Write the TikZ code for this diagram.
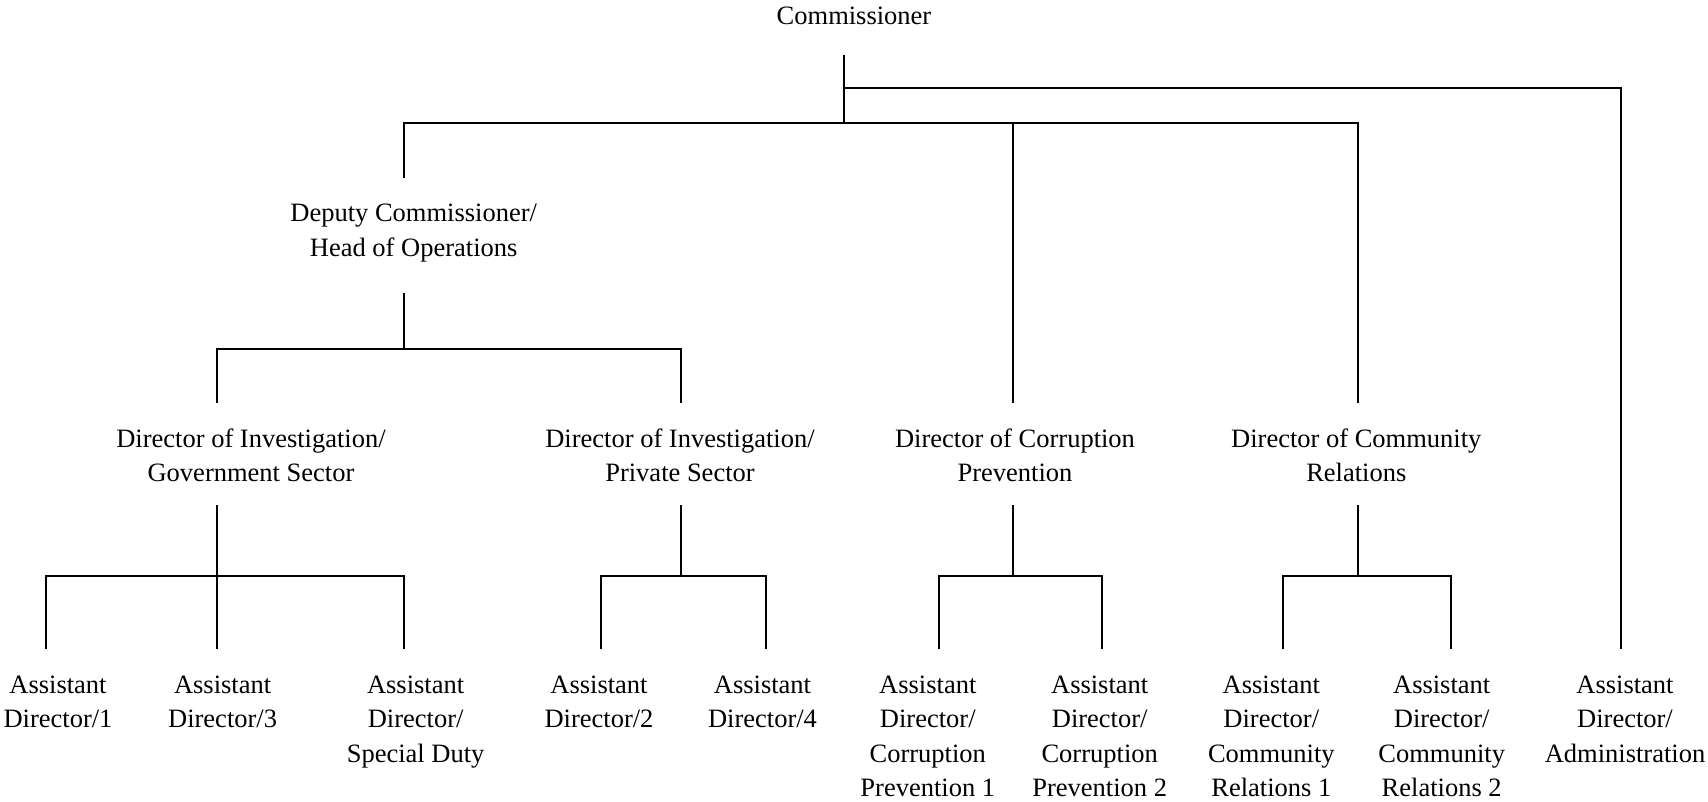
\documentclass[tikz,border=0pt]{standalone}
\usepackage{fontspec}
\setmainfont{Liberation Serif}

\begin{document}
\begin{tikzpicture}[x=0.5pt,y=-0.5pt,line width=1.1pt,
    post/.style={anchor=base,align=center,inner sep=0pt,
        font=\fontsize{13.25}{17.25}\selectfont}]
    \useasboundingbox (0,0) rectangle (1708,802);

    % posts (placed at the baseline of their last line)
    \node (comm) at (854,25) [post] {Commissioner};
    \node (dep) at (413.7,256.2) [post] {Deputy Commissioner/\\Head of Operations};

    \node (gov) at (251,481.8) [post] {Director of Investigation/\\Government Sector};
    \node (priv) at (680,481.8) [post] {Director of Investigation/\\Private Sector};
    \node (cor) at (1015,481.8) [post] {Director of Corruption\\Prevention};
    \node (com) at (1356.3,481.8) [post] {Director of Community\\Relations};

    \node (ad1) at (58,727.5) [post] {Assistant\\Director/1};
    \node (ad3) at (222.6,727.5) [post] {Assistant\\Director/3};
    \node (adsd) at (415.6,762.3) [post] {Assistant\\Director/\\Special Duty};
    \node (ad2) at (599,727.5) [post] {Assistant\\Director/2};
    \node (ad4) at (762.5,727.5) [post] {Assistant\\Director/4};
    \node (cp1) at (927.8,796.8) [post] {Assistant\\Director/\\Corruption\\Prevention 1};
    \node (cp2) at (1099.7,796.8) [post] {Assistant\\Director/\\Corruption\\Prevention 2};
    \node (cr1) at (1271.3,796.8) [post] {Assistant\\Director/\\Community\\Relations 1};
    \node (cr2) at (1441.7,796.8) [post] {Assistant\\Director/\\Community\\Relations 2};
    \node (adm) at (1625,762.3) [post] {Assistant\\Director/\\Administration};

    % stub ends
    \coordinate (comm-out) at (844,55);
    \coordinate (comm-mid) at (844,88.3);
    \coordinate (comm-bus) at (844,122.7);
    \coordinate (dep-in) at (404,178.3);
    \coordinate (dep-out) at (404,292.7);
    \coordinate (dep-bus) at (404,349);
    \foreach \n/\x in {gov/217,priv/681,cor/1013,com/1357.7} {
        \coordinate (\n-in) at (\x,403);
        \coordinate (\n-out) at (\x,505);
        \coordinate (\n-bus) at (\x,575.7);
    }
    \foreach \n/\x in {ad1/45.7,ad3/217,adsd/404,ad2/600.7,ad4/766,
        cp1/939,cp2/1101.7,cr1/1282.7,cr2/1450.7,adm/1620.7} {
        \coordinate (\n-in) at (\x,649.3);
    }

    % lines
    \draw (comm-out) -- (comm-bus);
    \draw (comm-mid) -| (adm-in);
    \draw (dep-in) |- (comm-bus) -| (com-in);
    \draw (comm-bus) -| (cor-in);

    \draw (dep-out) -- (dep-bus);
    \draw (gov-in) |- (dep-bus) -| (priv-in);

    \foreach \n in {gov,priv,cor,com} {
        \draw (\n-out) -- (\n-bus);
    }
    \draw (ad1-in) |- (gov-bus) -| (adsd-in);
    \draw (gov-bus) -- (ad3-in);
    \draw (ad2-in) |- (priv-bus) -| (ad4-in);
    \draw (cp1-in) |- (cor-bus) -| (cp2-in);
    \draw (cr1-in) |- (com-bus) -| (cr2-in);
\end{tikzpicture}
\end{document}
